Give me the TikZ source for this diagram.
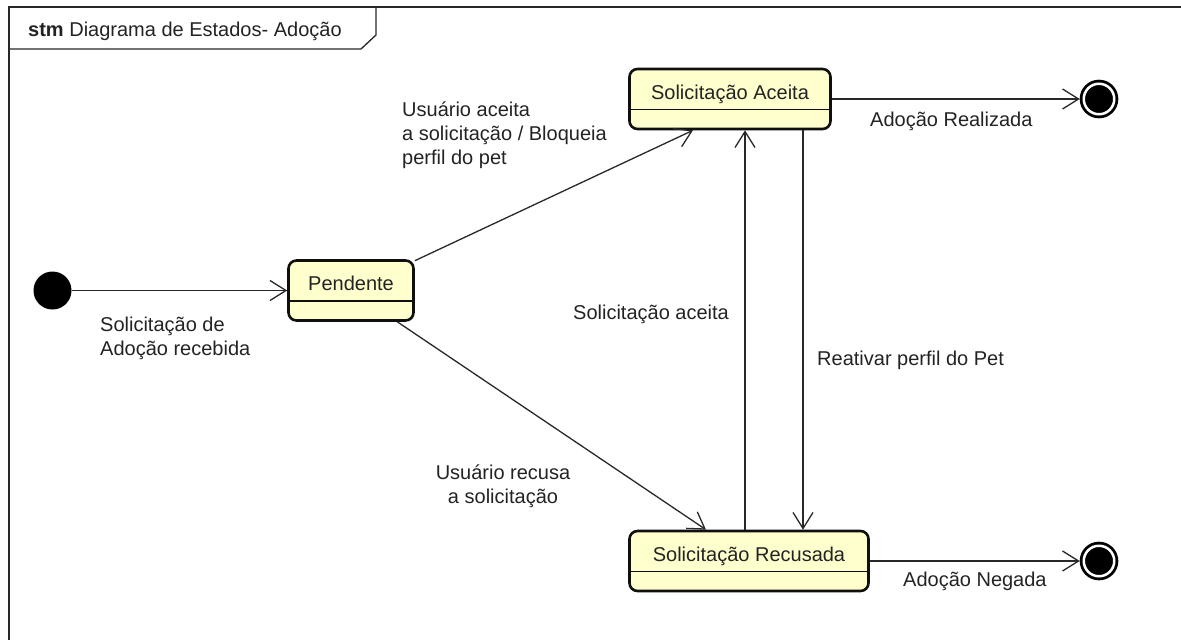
\documentclass[tikz,border=0pt]{standalone}
\usepackage{fontspec}
\setmainfont{Liberation Sans}
\usepackage{tikz}
\usetikzlibrary{arrows.meta, positioning}
\definecolor{stfill}{RGB}{255,255,206}
\definecolor{stline}{RGB}{15,15,15}
\definecolor{txtdark}{RGB}{35,35,35}
\definecolor{wire}{RGB}{40,40,40}
\newcommand{\lblfont}{\fontsize{20}{24}\selectfont}
\tikzset{
  stbox/.style={rectangle, draw=stline, fill=stfill, rounded corners=8pt,
    line width=2.6pt, inner sep=0pt, text height=30pt, text depth=30pt,
    font=\lblfont, text=txtdark,
    path picture={\draw[line width=1.3pt, stline]
      ([yshift=-10.5pt]path picture bounding box.west) --
      ([yshift=-10.5pt]path picture bounding box.east);}},
  initst/.style={circle, fill=black, minimum size=38pt, inner sep=0pt},
  finalst/.style={circle, fill=black, draw=black, double=white,
    double distance=2.5pt, line width=2.8pt, minimum size=30.5pt,
    inner sep=0pt, outer sep=4pt},
  lbl/.style={font=\lblfont, text=txtdark, inner sep=0pt},
  trans/.style={-{Straight Barb[length=16pt,width=20pt]}, line width=1.3pt, color=wire}
}
\begin{document}
\begin{tikzpicture}[x=1pt, y=-1pt]
  \useasboundingbox (0,0) rectangle (1181,640);
  % frame and name tab
  \draw[line width=1.3pt, wire] (9,640) -- (9,7) -- (1181,7);
  \draw[line width=1.3pt, wire] (9,49) -- (361,49) -- (376,35) -- (376,7);
  \node[lbl, anchor=base west] (title) at (28,36) {\textbf{stm} Diagrama de Estados- Adoção};

  % states
  \node[initst] (ini) at (52.5,290.5) {};
  \node[stbox, minimum width=125pt] (pend) at (351,290.5) {Pendente};
  \node[stbox, minimum width=201pt] (acei) at (730,99) {Solicitação Aceita};
  \node[stbox, minimum width=239pt] (recu) at (749,561) {Solicitação Recusada};
  \node[finalst] (fimA) at (1099,99) {};
  \node[finalst] (fimB) at (1099,561) {};

  % transitions
  \draw[trans] (ini) -- (pend);
  \draw[trans] (pend) -- ([xshift=-37pt]acei.south);
  \draw[trans] (pend) -- ([xshift=-43pt]recu.north);
  \draw[trans] ([xshift=-4pt]recu.north) -- ([xshift=15pt]acei.south);
  \draw[trans] ([xshift=73pt]acei.south) -- ([xshift=54pt]recu.north);
  \draw[trans] (acei) -- (fimA);
  \draw[trans] (recu) -- (fimB);

  % transition labels (base = last line)
  \node[lbl, anchor=base west, align=left] (lrec) at (100,355) {Solicitação de\\Adoção recebida};
  \node[lbl, anchor=base west, align=left] (lace) at (402,164) {Usuário aceita\\a solicitação / Bloqueia\\perfil do pet};
  \node[lbl, anchor=base, align=center] (lrcs) at (503,503) {Usuário recusa\\a solicitação};
  \node[lbl, anchor=base west] (lsac) at (573,319) {Solicitação aceita};
  \node[lbl, anchor=base west] (lrea) at (817,365) {Reativar perfil do Pet};
  \node[lbl, anchor=base west] (lreal) at (870,126) {Adoção Realizada};
  \node[lbl, anchor=base west] (lneg) at (903,586) {Adoção Negada};
\end{tikzpicture}
\end{document}
